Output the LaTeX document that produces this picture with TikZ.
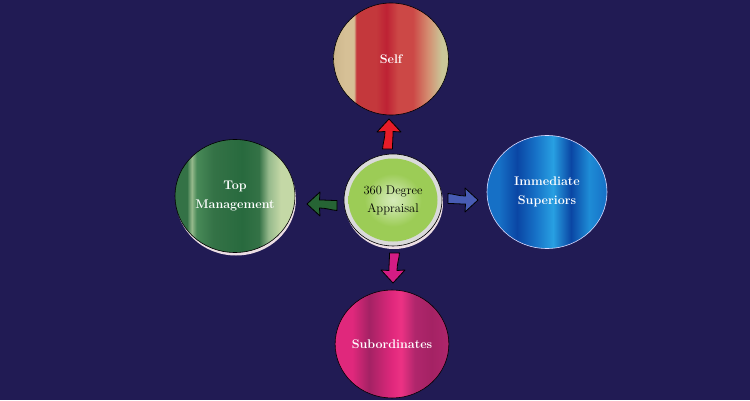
\documentclass[tikz,border=0pt]{standalone}
\usepackage{fontspec}
\usetikzlibrary{positioning}
\usetikzlibrary{shapes.geometric, shadows}

\definecolor{bgnavy}{RGB}{33,27,84}
\definecolor{shadowpink}{RGB}{236,222,228}
\definecolor{rimgray}{RGB}{218,218,218}
% self
\definecolor{selftan}{RGB}{205,182,140}
\definecolor{selfpeach}{RGB}{214,192,150}
\definecolor{selfred}{RGB}{196,56,60}
\definecolor{selfdark}{RGB}{190,34,52}
\definecolor{selflight}{RGB}{204,72,70}
\definecolor{selfsalmon}{RGB}{212,140,112}
\definecolor{selfpale}{RGB}{202,198,152}
% top management
\definecolor{mgmtdark}{RGB}{52,114,70}
\definecolor{mgmtband}{RGB}{150,186,140}
\definecolor{mgmtmid}{RGB}{72,138,88}
\definecolor{mgmtdeep}{RGB}{40,106,62}
\definecolor{mgmtpale}{RGB}{196,216,166}
% immediate superiors
\definecolor{supmid}{RGB}{22,112,198}
\definecolor{supdark}{RGB}{10,70,164}
\definecolor{suplight}{RGB}{40,160,226}
\definecolor{supsoft}{RGB}{30,140,214}
% subordinates
\definecolor{subpink}{RGB}{224,40,124}
\definecolor{subdeep}{RGB}{164,34,100}
\definecolor{subbright}{RGB}{236,50,132}
\definecolor{subplum}{RGB}{176,38,108}
% centre
\definecolor{centregreen}{RGB}{156,204,86}
\definecolor{centrelight}{RGB}{212,234,184}
% arrows
\definecolor{arrowred}{RGB}{232,28,40}
\definecolor{arrowgreen}{RGB}{38,100,52}
\definecolor{arrowblue}{RGB}{72,92,180}
\definecolor{arrowpink}{RGB}{212,28,132}

\pgfdeclarehorizontalshading{selfshade}{100bp}{color(0bp)=(selftan); color(25bp)=(selftan); color(30bp)=(selfpeach); color(34bp)=(selfpeach); color(34.8bp)=(selfred); color(43.5bp)=(selfred); color(48bp)=(selfdark); color(53bp)=(selflight); color(59.5bp)=(selflight); color(66bp)=(selfsalmon); color(72bp)=(selfpale); color(75bp)=(selfpale); color(100bp)=(selfpale)}
\pgfdeclarehorizontalshading{mgmtshade}{100bp}{color(0bp)=(mgmtdark); color(25bp)=(mgmtdark); color(30bp)=(mgmtdark); color(32bp)=(mgmtband); color(34bp)=(mgmtmid); color(41bp)=(mgmtdark); color(53bp)=(mgmtdeep); color(60bp)=(mgmtdark); color(64bp)=(mgmtband); color(69bp)=(mgmtpale); color(75bp)=(mgmtpale); color(100bp)=(mgmtpale)}
\pgfdeclarehorizontalshading{supshade}{100bp}{color(0bp)=(supmid); color(25bp)=(supmid); color(30bp)=(supmid); color(37.5bp)=(supdark); color(45bp)=(supmid); color(52.5bp)=(suplight); color(60bp)=(supdark); color(67.5bp)=(supsoft); color(75bp)=(supmid); color(100bp)=(supmid)}
\pgfdeclarehorizontalshading{subshade}{100bp}{color(0bp)=(subpink); color(25bp)=(subpink); color(32.5bp)=(subpink); color(40bp)=(subdeep); color(50bp)=(subpink); color(54bp)=(subbright); color(60bp)=(subplum); color(67.5bp)=(subdeep); color(75bp)=(subplum); color(100bp)=(subplum)}
\pgfdeclareradialshading{centreshade}{\pgfpoint{0bp}{0bp}}{color(0bp)=(centrelight); color(6bp)=(centrelight!70!centregreen); color(16bp)=(centregreen); color(50bp)=(centregreen)}

\tikzstyle{disc} = [ellipse, draw=black, line width=0.6pt, inner sep=0pt, align=center, text=white, font=\fontsize{12.5}{19}\selectfont\bfseries]
\tikzstyle{selfdisc} = [disc, minimum width=115pt, minimum height=112pt, shade, shading=selfshade]
\tikzstyle{mgmtdisc} = [disc, minimum width=120pt, minimum height=113pt, shade, shading=mgmtshade, drop shadow={shadow xshift=1pt, shadow yshift=-3pt, fill=shadowpink, opacity=1}]
\tikzstyle{supdisc} = [disc, draw=white!85!blue, minimum width=120pt, minimum height=113pt, shade, shading=supshade]
\tikzstyle{subdisc} = [disc, minimum width=111pt, minimum height=108pt, shade, shading=subshade]
\tikzstyle{rimdisc} = [ellipse, draw=black, line width=0.6pt, fill=rimgray, minimum width=98pt, minimum height=92pt, drop shadow={shadow xshift=1pt, shadow yshift=-3pt, fill=shadowpink, opacity=1}]
\tikzstyle{centredisc} = [ellipse, inner sep=0pt, minimum width=89pt, minimum height=83pt, shade, shading=centreshade, align=center, font=\fontsize{12.5}{18}\selectfont]
\tikzstyle{blockarrow} = [draw=black, line width=0.8pt, line join=round]

% block arrow pointing right, drawn round the current origin
\newcommand{\blockarrowpath}{(15,0) -- (2,12) -- (2.5,4) .. controls (-4,4) and (-9,6) .. (-15,6.5) -- (-15,-3.5) .. controls (-9,-3.5) and (-4,-4) .. (2.5,-4) -- (2,-12) -- cycle}

\begin{document}
\begin{tikzpicture}[x=1pt, y=1pt, node distance=141pt]
        \fill[bgnavy] (0,0) rectangle (750,400);
        \node (rim) [rimdisc] at (393,200) {};
        \node (centre) [centredisc] at (rim) {360 Degree\\Appraisal};
        \node (self) [selfdisc, above of=centre, xshift=-2pt] {Self};
        \node (mgmt) [mgmtdisc, left of=centre, node distance=158pt, yshift=4pt] {Top\\Management};
        \node (sup) [supdisc, right of=centre, node distance=154pt, yshift=8pt] {Immediate\\Superiors};
        \node (sub) [subdisc, below of=centre, node distance=144pt, xshift=-1pt] {Subordinates};
        % arrows between centre and the four discs
        \path (centre) ++(-4,66) coordinate (upArrow);
        \path (centre) ++(-71,-4) coordinate (leftArrow);
        \path (centre) ++(70,0) coordinate (rightArrow);
        \path (centre) ++(0,-68) coordinate (downArrow);
        \filldraw [blockarrow, fill=arrowred, shift={(upArrow)}, rotate=90] \blockarrowpath;
        \filldraw [blockarrow, fill=arrowgreen, shift={(leftArrow)}, rotate=180] \blockarrowpath;
        \filldraw [blockarrow, fill=arrowblue, shift={(rightArrow)}] \blockarrowpath;
        \filldraw [blockarrow, fill=arrowpink, shift={(downArrow)}, rotate=-90] \blockarrowpath;
\end{tikzpicture}
\end{document}
